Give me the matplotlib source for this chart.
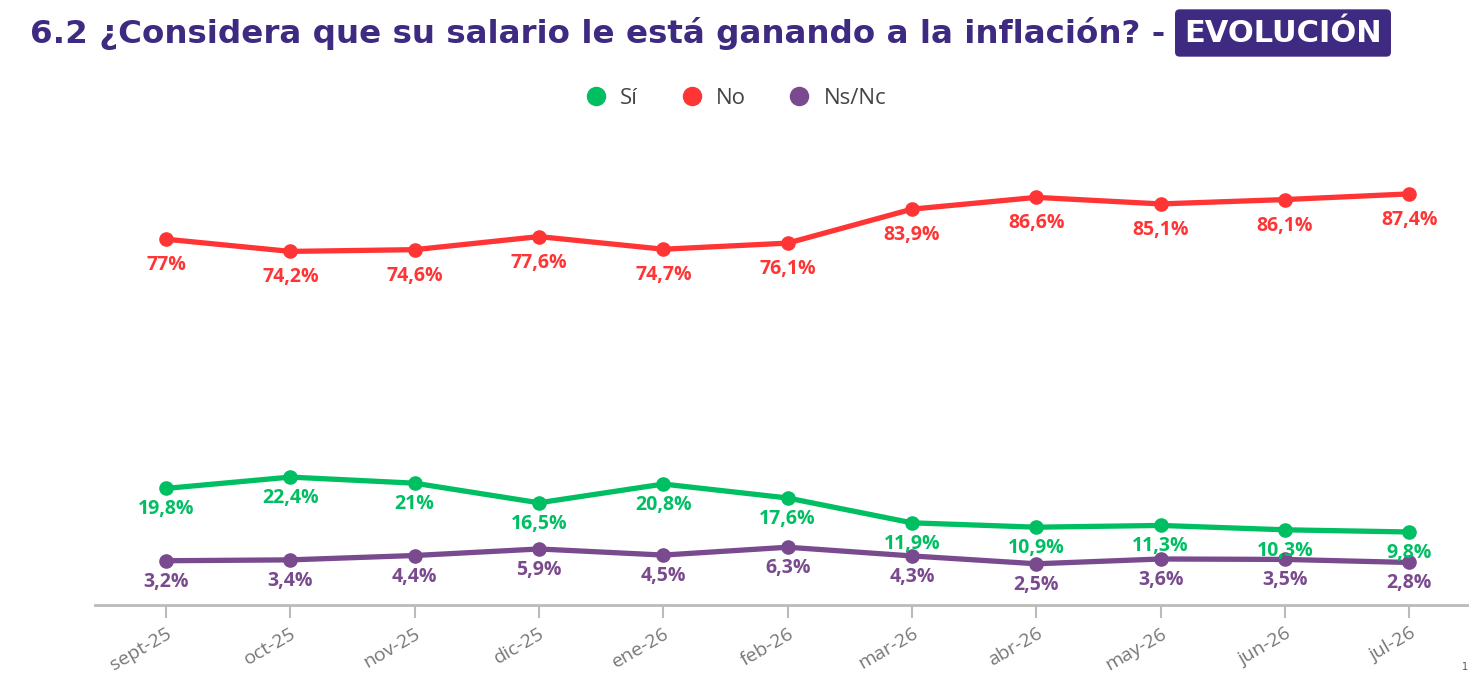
import matplotlib
matplotlib.use("Agg")
import matplotlib.pyplot as plt
from matplotlib.lines import Line2D

# data
months = ["sept-25", "oct-25", "nov-25", "dic-25", "ene-26", "feb-26",
          "mar-26", "abr-26", "may-26", "jun-26", "jul-26"]
si = [19.8, 22.4, 21, 16.5, 20.8, 17.6, 11.9, 10.9, 11.3, 10.3, 9.8]
no = [77, 74.2, 74.6, 77.6, 74.7, 76.1, 83.9, 86.6, 85.1, 86.1, 87.4]
nsnc = [3.2, 3.4, 4.4, 5.9, 4.5, 6.3, 4.3, 2.5, 3.6, 3.5, 2.8]

GREEN = "#00BF63"
RED = "#FF3535"
PURPLE = "#7A4A8E"
TITLE = "#3E2A80"

W, H = 1469, 678
fig = plt.figure(figsize=(W / 100, H / 100), dpi=100)
fig.patch.set_facecolor("white")

# axes placed in pixel terms
left, right, bottom, top = 95, 1469, 605, 139
ax = fig.add_axes([left / W, (H - bottom) / H, (right - left) / W, (bottom - top) / H])
ax.set_xlim(-0.571, 10.48)
ax.set_ylim(-6.96, 100)

x = list(range(len(months)))


def fmt(v):
    s = f"{v:g}".replace(".", ",")
    return s + "%"


series = [(no, RED, 26), (si, GREEN, 21), (nsnc, PURPLE, 21)]
for vals, col, off in series:
    ax.plot(x, vals, color=col, lw=3.8, marker="o", ms=9.5, solid_capstyle="round", zorder=3)
    for xi, v in zip(x, vals):
        ax.annotate(fmt(v), (xi, v), xytext=(0, -off), textcoords="offset pixels",
                    ha="center", va="center", fontsize=14, fontweight="bold",
                    color=col, family="Open Sans", zorder=4)

for s in ["top", "right", "left"]:
    ax.spines[s].set_visible(False)
ax.spines["bottom"].set_color("#BBBBBB")
ax.spines["bottom"].set_linewidth(2)
ax.set_yticks([])
ax.set_xticks(x)
ax.set_xticklabels(months, rotation=30, ha="right", rotation_mode="anchor",
                   fontsize=14, color="#777777", family="Open Sans")
ax.tick_params(axis="x", length=9, width=1.5, color="#BBBBBB", pad=5)

# title, sized to span the same width as in the reference
title = fig.text(30 / W, 1 - 33 / H, "6.2 ¿Considera que su salario le está ganando a la inflación? -",
                 ha="left", va="center", fontsize=22, fontweight="bold", color=TITLE,
                 family="DejaVu Sans")
renderer = fig.canvas.get_renderer()
w = title.get_window_extent(renderer).width
title.set_fontsize(22 * 1130 / w)

fig.text(1283 / W, 1 - 33 / H, "EVOLUCIÓN", ha="center", va="center", fontsize=22,
         fontweight="bold", color="white", family="DejaVu Sans",
         bbox=dict(boxstyle="round,pad=0.3,rounding_size=0.15", fc=TITLE, ec="none"))

# legend
handles = [Line2D([], [], color=c, marker="o", ls="none", ms=13) for c in (GREEN, RED, PURPLE)]
fig.legend(handles, ["Sí", "No", "Ns/Nc"], loc="center", bbox_to_anchor=(730 / W, 1 - 98 / H),
           ncol=3, frameon=False, handletextpad=0.1, columnspacing=1.4,
           labelcolor="#444444", prop={"family": "Open Sans", "size": 16})

fig.text(1462 / W, 1 - 667 / H, "1", ha="left", va="center", fontsize=7, color="#555555")

fig.savefig("out.png", dpi=100)
